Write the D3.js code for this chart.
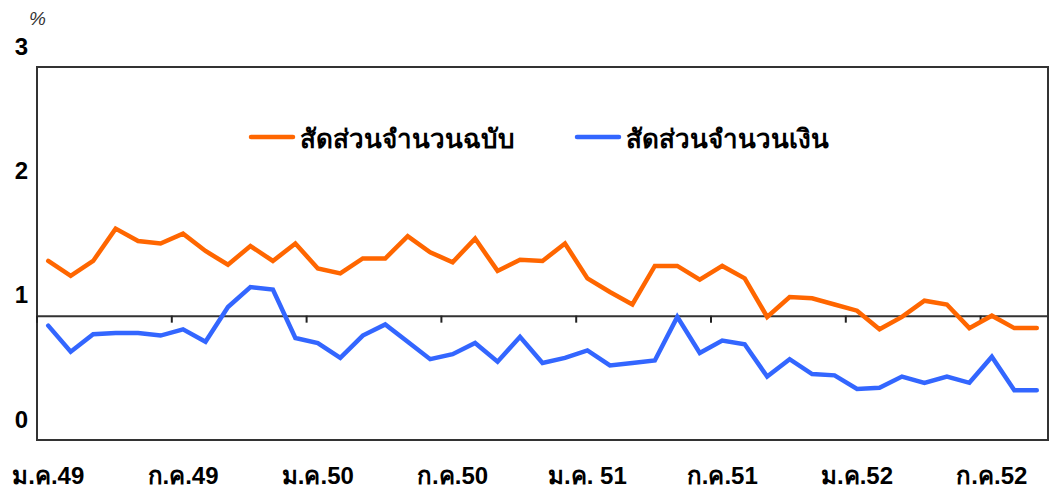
<html>
    <head>
        <meta charset="utf-8">
        <script src="https://d3js.org/d3.v7.min.js" charset="utf-8"></script>
        <style>
            body { margin: 0; background: #fff; }
            text { font-family: "Liberation Sans", Arial, sans-serif; }
        </style>
    </head>
    <body>
        <div id="chartcontainer"></div>

        <script type="text/javascript">
            // monthly categories ม.ค.49 .. ก.ย.52
            var thaiMonths = ["ม.ค.", "ก.พ.", "มี.ค.", "เม.ย.", "พ.ค.", "มิ.ย.", "ก.ค.", "ส.ค.", "ก.ย.", "ต.ค.", "พ.ย.", "ธ.ค."];
            var months = [];
            for (var i = 0; i < 45; i++) {
                months.push(thaiMonths[i % 12] + (49 + Math.floor(i / 12)));
            }
            var tickLabels = ["ม.ค.49", "ก.ค.49", "ม.ค.50", "ก.ค.50", "ม.ค. 51", "ก.ค.51", "ม.ค.52", "ก.ค.52"];
            var yTicks = [0, 1, 2, 3];

            var seriesNames = ["สัดส่วนจำนวนฉบับ", "สัดส่วนจำนวนเงิน"];
            var seriesColors = ["#FF6600", "#3366FF"];

            var ratioCount = [1.44, 1.32, 1.44, 1.70, 1.60, 1.58, 1.66, 1.52, 1.41, 1.56,
                              1.44, 1.58, 1.38, 1.34, 1.46, 1.46, 1.64, 1.51, 1.43, 1.62,
                              1.36, 1.45, 1.44, 1.58, 1.30, 1.19, 1.09, 1.40, 1.40, 1.29,
                              1.40, 1.30, 0.99, 1.15, 1.14, 1.09, 1.04, 0.89, 0.99, 1.12,
                              1.09, 0.90, 1.00, 0.90, 0.90];
            var ratioAmount = [0.92, 0.71, 0.85, 0.86, 0.86, 0.84, 0.89, 0.79, 1.07, 1.23,
                               1.21, 0.82, 0.78, 0.66, 0.84, 0.93, 0.79, 0.65, 0.69, 0.78,
                               0.63, 0.83, 0.62, 0.66, 0.72, 0.60, 0.62, 0.64, 0.99, 0.70,
                               0.80, 0.77, 0.51, 0.65, 0.53, 0.52, 0.41, 0.42, 0.51, 0.46,
                               0.51, 0.46, 0.67, 0.40, 0.40];
            var series = [ratioCount, ratioAmount];

            var width = 1055, height = 488;
            var plotLeft = 37, plotRight = 1048, plotTop = 67, plotBottom = 440;

            var svg = d3.select("#chartcontainer").append("svg")
                .attr("width", width).attr("height", height);

            var x = d3.scaleBand().domain(months).range([plotLeft, plotRight]).padding(0);
            var y = d3.scaleLinear().domain([0, 3]).range([plotBottom, plotTop]);
            var bw = x.bandwidth();

            // frame
            svg.append("rect")
                .attr("x", plotLeft).attr("y", plotTop)
                .attr("width", plotRight - plotLeft).attr("height", plotBottom - plotTop)
                .attr("fill", "none").attr("stroke", "#333").attr("stroke-width", 2);

            // category axis sits on the 1% line, ticks between months
            var axisMonths = months.filter(function(d, i) { return i % 6 == 0; });
            var xAxis = svg.append("g")
                .attr("transform", "translate(0," + y(1) + ")")
                .call(d3.axisBottom(x).tickValues(axisMonths).tickSize(7).tickSizeOuter(0).tickFormat(""));
            xAxis.select(".domain").attr("stroke", "#333").attr("stroke-width", 2);
            xAxis.selectAll(".tick line").attr("transform", "translate(" + (-bw / 2) + ",0)")
                .attr("stroke", "#222").attr("stroke-width", 2);

            // month labels below the frame
            var xLab = svg.append("g")
                .attr("transform", "translate(0," + plotBottom + ")")
                .call(d3.axisBottom(x).tickValues(axisMonths).tickSize(0).tickPadding(0)
                    .tickFormat(function(d, i) { return tickLabels[i]; }));
            xLab.select(".domain").remove();
            xLab.selectAll("text").attr("dy", null).attr("y", 44)
                .style("font-size", "24px").style("font-weight", "bold").attr("fill", "#000");

            // value labels
            var yLab = svg.append("g")
                .attr("transform", "translate(" + plotLeft + ",0)")
                .call(d3.axisLeft(y).tickValues(yTicks).tickSize(0).tickPadding(9).tickFormat(d3.format("d")));
            yLab.select(".domain").remove();
            yLab.selectAll("text").attr("dy", null).attr("y", -13)
                .style("font-size", "24px").style("font-weight", "bold").attr("fill", "#000");

            svg.append("text").attr("x", 29).attr("y", 25)
                .style("font-size", "19px").style("font-style", "italic").attr("fill", "#333")
                .text("%");

            var line = d3.line()
                .x(function(d, i) { return x(months[i]) + bw / 2; })
                .y(function(d) { return y(d); });

            series.forEach(function(s, k) {
                svg.append("path").datum(s)
                    .attr("d", line)
                    .attr("fill", "none")
                    .attr("stroke", seriesColors[k])
                    .attr("stroke-width", 4.5)
                    .attr("stroke-linejoin", "miter")
                    .attr("stroke-linecap", "round");
            });

            // legend
            var legendX = [251, 577];
            var legend = svg.selectAll(".legend").data(seriesNames).enter().append("g")
                .attr("class", "legend")
                .attr("transform", function(d, i) { return "translate(" + legendX[i] + ",137)"; });
            legend.append("line")
                .attr("x1", 0).attr("x2", 42).attr("y1", 0).attr("y2", 0)
                .attr("stroke", function(d, i) { return seriesColors[i]; })
                .attr("stroke-width", 4.5).attr("stroke-linecap", "round");
            legend.append("text")
                .attr("x", 49).attr("y", 11)
                .style("font-size", "26px").style("font-weight", "bold").attr("fill", "#000")
                .text(function(d) { return d; });
        </script>
    </body>
</html>
